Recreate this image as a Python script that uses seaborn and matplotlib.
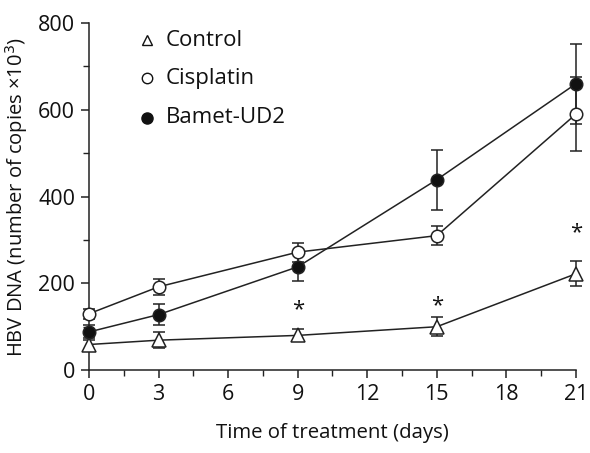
import matplotlib
matplotlib.use("Agg")
import matplotlib.pyplot as plt
import seaborn as sns
import pandas as pd
import numpy as np
from matplotlib.ticker import MultipleLocator

days = [0, 3, 9, 15, 21]
control = [59, 69, 80, 100, 222]
control_err = [10, 18, 14, 22, 29]
cisplatin = [130, 192, 272, 310, 590]
cisplatin_err = [12, 18, 22, 22, 86]
bamet = [88, 128, 238, 439, 660]
bamet_err = [15, 24, 32, 69, 92]
star_days = [9, 15, 21]
star_y = [140, 148, 316]
series_names = ["Control", "Cisplatin", "Bamet-UD2"]

sns.set_style("ticks")
plt.rcParams['font.family'] = ['Open Sans', 'DejaVu Sans']

df = pd.DataFrame({
    "day": days * 3,
    "value": control + cisplatin + bamet,
    "err": control_err + cisplatin_err + bamet_err,
    "series": [series_names[0]] * 5 + [series_names[1]] * 5 + [series_names[2]] * 5,
})

fig = plt.figure(figsize=(5.9, 4.53), dpi=100)
ax = fig.add_axes([0.151, 0.183, 0.825, 0.766])

styles = {
    "Control": dict(marker="^", mfc="white", ms=10),
    "Cisplatin": dict(marker="o", mfc="white", ms=9),
    "Bamet-UD2": dict(marker="o", mfc="#111111", ms=9),
}

for name in series_names:
    sub = df[df.series == name]
    eb = ax.errorbar(sub.day, sub.value, yerr=sub.err, fmt="none", ecolor="#222222",
                     elinewidth=1.1, capsize=4, capthick=1.1, zorder=2)
    for art in eb.lines[1] + eb.lines[2]:
        art.set_clip_on(False)
    for art in eb.lines[2]:
        art.set_clip_on(False)
    n_before = len(ax.lines)
    sns.lineplot(data=sub, x="day", y="value", ax=ax, color="#222222", lw=1.1,
                 marker=styles[name]["marker"], markersize=styles[name]["ms"],
                 markerfacecolor=styles[name]["mfc"], markeredgecolor="#222222",
                 markeredgewidth=1.1, zorder=3, legend=False)
    for ln in ax.lines[n_before:]:
        ln.set_clip_on(False)

for c in ax.collections:
    c.set_clip_on(False)

for d, y in zip(star_days, star_y):
    ax.text(d, y, "*", ha="center", va="center", fontsize=16, color="#111111")

# legend as text entries
leg_y = [760, 673, 582]
leg_markers = [("^", "white", 7), ("o", "white", 7.5), ("o", "#111111", 8)]
for (m, fc, s), yv, name in zip(leg_markers, leg_y, series_names):
    ax.plot([2.5], [yv], marker=m, mfc=fc, mec="#111111", ms=s, mew=1.0,
            ls="none", clip_on=False)
    ax.text(3.3, yv, name, va="center", ha="left", fontsize=16, color="#111111")

ax.set_xlim(0, 21)
ax.set_ylim(0, 800)
ax.set_xticks([0, 3, 6, 9, 12, 15, 18, 21])
ax.set_yticks([0, 200, 400, 600, 800])
ax.xaxis.set_minor_locator(MultipleLocator(1.5))
ax.yaxis.set_minor_locator(MultipleLocator(100))
ax.tick_params(axis="both", which="major", length=6, width=1.1, labelsize=15.5,
               color="#222222", labelcolor="#111111", direction="out", pad=4)
ax.tick_params(axis="both", which="minor", length=4, width=1.0, color="#222222")
for sp in ["top", "right"]:
    ax.spines[sp].set_visible(False)
for sp in ["left", "bottom"]:
    ax.spines[sp].set_linewidth(1.1)
    ax.spines[sp].set_color("#222222")

ax.set_xlabel("Time of treatment (days)", fontsize=14.7, color="#111111", labelpad=13)
ax.set_ylabel("HBV DNA (number of copies \u00d710$^3$)", fontsize=14.5, color="#111111", labelpad=6)

fig.savefig("out.png", dpi=100)
